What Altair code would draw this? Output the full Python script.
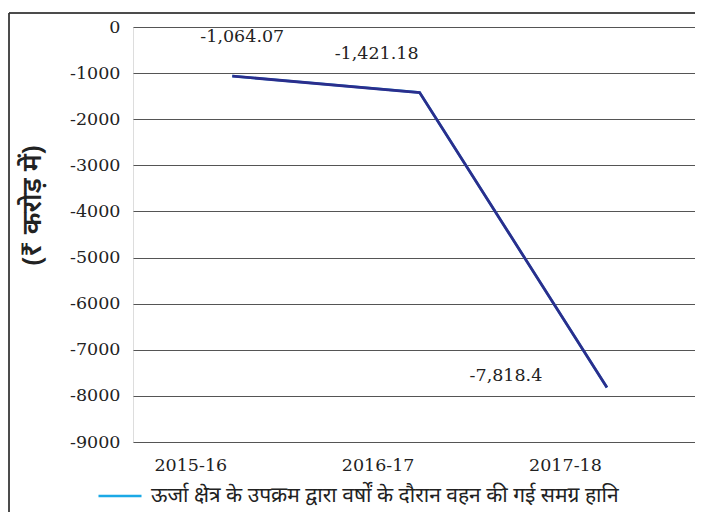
import altair as alt
import pandas as pd

years = ["2015-16", "2016-17", "2017-18"]
losses = [-1064.07, -1421.18, -7818.4]
labels = ["-1,064.07", "-1,421.18", "-7,818.4"]
series_name = "ऊर्जा क्षेत्र के उपक्रम द्वारा वर्षों के दौरान वहन की गई समग्र हानि"
y_title = "(₹ करोड़ में)"

df = pd.DataFrame({"year": years, "loss": losses, "label": labels, "series": [series_name] * 3})

serif = "DejaVu Serif"
fs = 17.5
xscale = alt.Scale(type="point", padding=0.5, align=0.53)

x = alt.X("year:O", sort=years, scale=xscale,
          axis=alt.Axis(title=None, domain=False, ticks=False, grid=False, labelAngle=0,
                        labelFont=serif, labelFontSize=fs, labelColor="#222", labelPadding=14,
                        labelOffset=-42))
y = alt.Y("loss:Q", scale=alt.Scale(domain=[-9000, 0], nice=False, zero=False),
          axis=alt.Axis(title=y_title, values=list(range(-9000, 1, 1000)),
                        labelExpr="'' + datum.value",
                        domain=False, ticks=False, grid=True, gridColor="#555", gridWidth=1.2,
                        labelFont=serif, labelFontSize=fs, labelColor="#222", labelPadding=13,
                        titleFont="Noto Sans", titleFontSize=27, titleFontWeight=600,
                        titleColor="#222", titleAngle=-90, titleX=-101, titleY=178,
                        titleAlign="center", titleBaseline="middle"))

base = alt.Chart(df)

legend_line = base.mark_line(strokeWidth=2.5).encode(
    x=x, y=y,
    color=alt.Color("series:N", scale=alt.Scale(range=["#1BA9E6"]),
                    legend=alt.Legend(title=None, orient="none", legendX=-36, legendY=446,
                                      symbolType="stroke", symbolSize=1850, symbolStrokeWidth=2.5,
                                      labelFont="Noto Sans", labelFontSize=21, labelColor="#222",
                                      labelLimit=700, labelOffset=8))
)
main_line = base.mark_line(strokeWidth=2.8, color="#2B2E8C").encode(x=x, y=y)

def lab(i, dx, dy):
    return alt.Chart(df.iloc[[i]]).mark_text(font=serif, fontSize=fs, color="#222", dx=dx, dy=dy).encode(
        x=alt.X("year:O", sort=years, scale=xscale),
        y="loss:Q", text="label:N")

frame_top = alt.Chart(df).mark_rule(color="#333", strokeWidth=1).encode(
    x=alt.value(-124), x2=alt.value(562), y=alt.value(-14))
frame_left = alt.Chart(df).mark_rule(color="#333", strokeWidth=1).encode(
    x=alt.value(-124), y=alt.value(-14), y2=alt.value(500))

chart = alt.layer(frame_top, frame_left, legend_line, main_line,
                  lab(0, 10, -39), lab(1, -43, -39), lab(2, -101, -12)).properties(
    width=562, height=415,
    autosize=alt.AutoSizeParams(type="none"),
    padding={"left": 125, "top": 19, "right": 0, "bottom": 70},
).configure_view(stroke=None).configure(background="white")

chart.save("out.html", embed_options={"renderer": "svg", "actions": False})
